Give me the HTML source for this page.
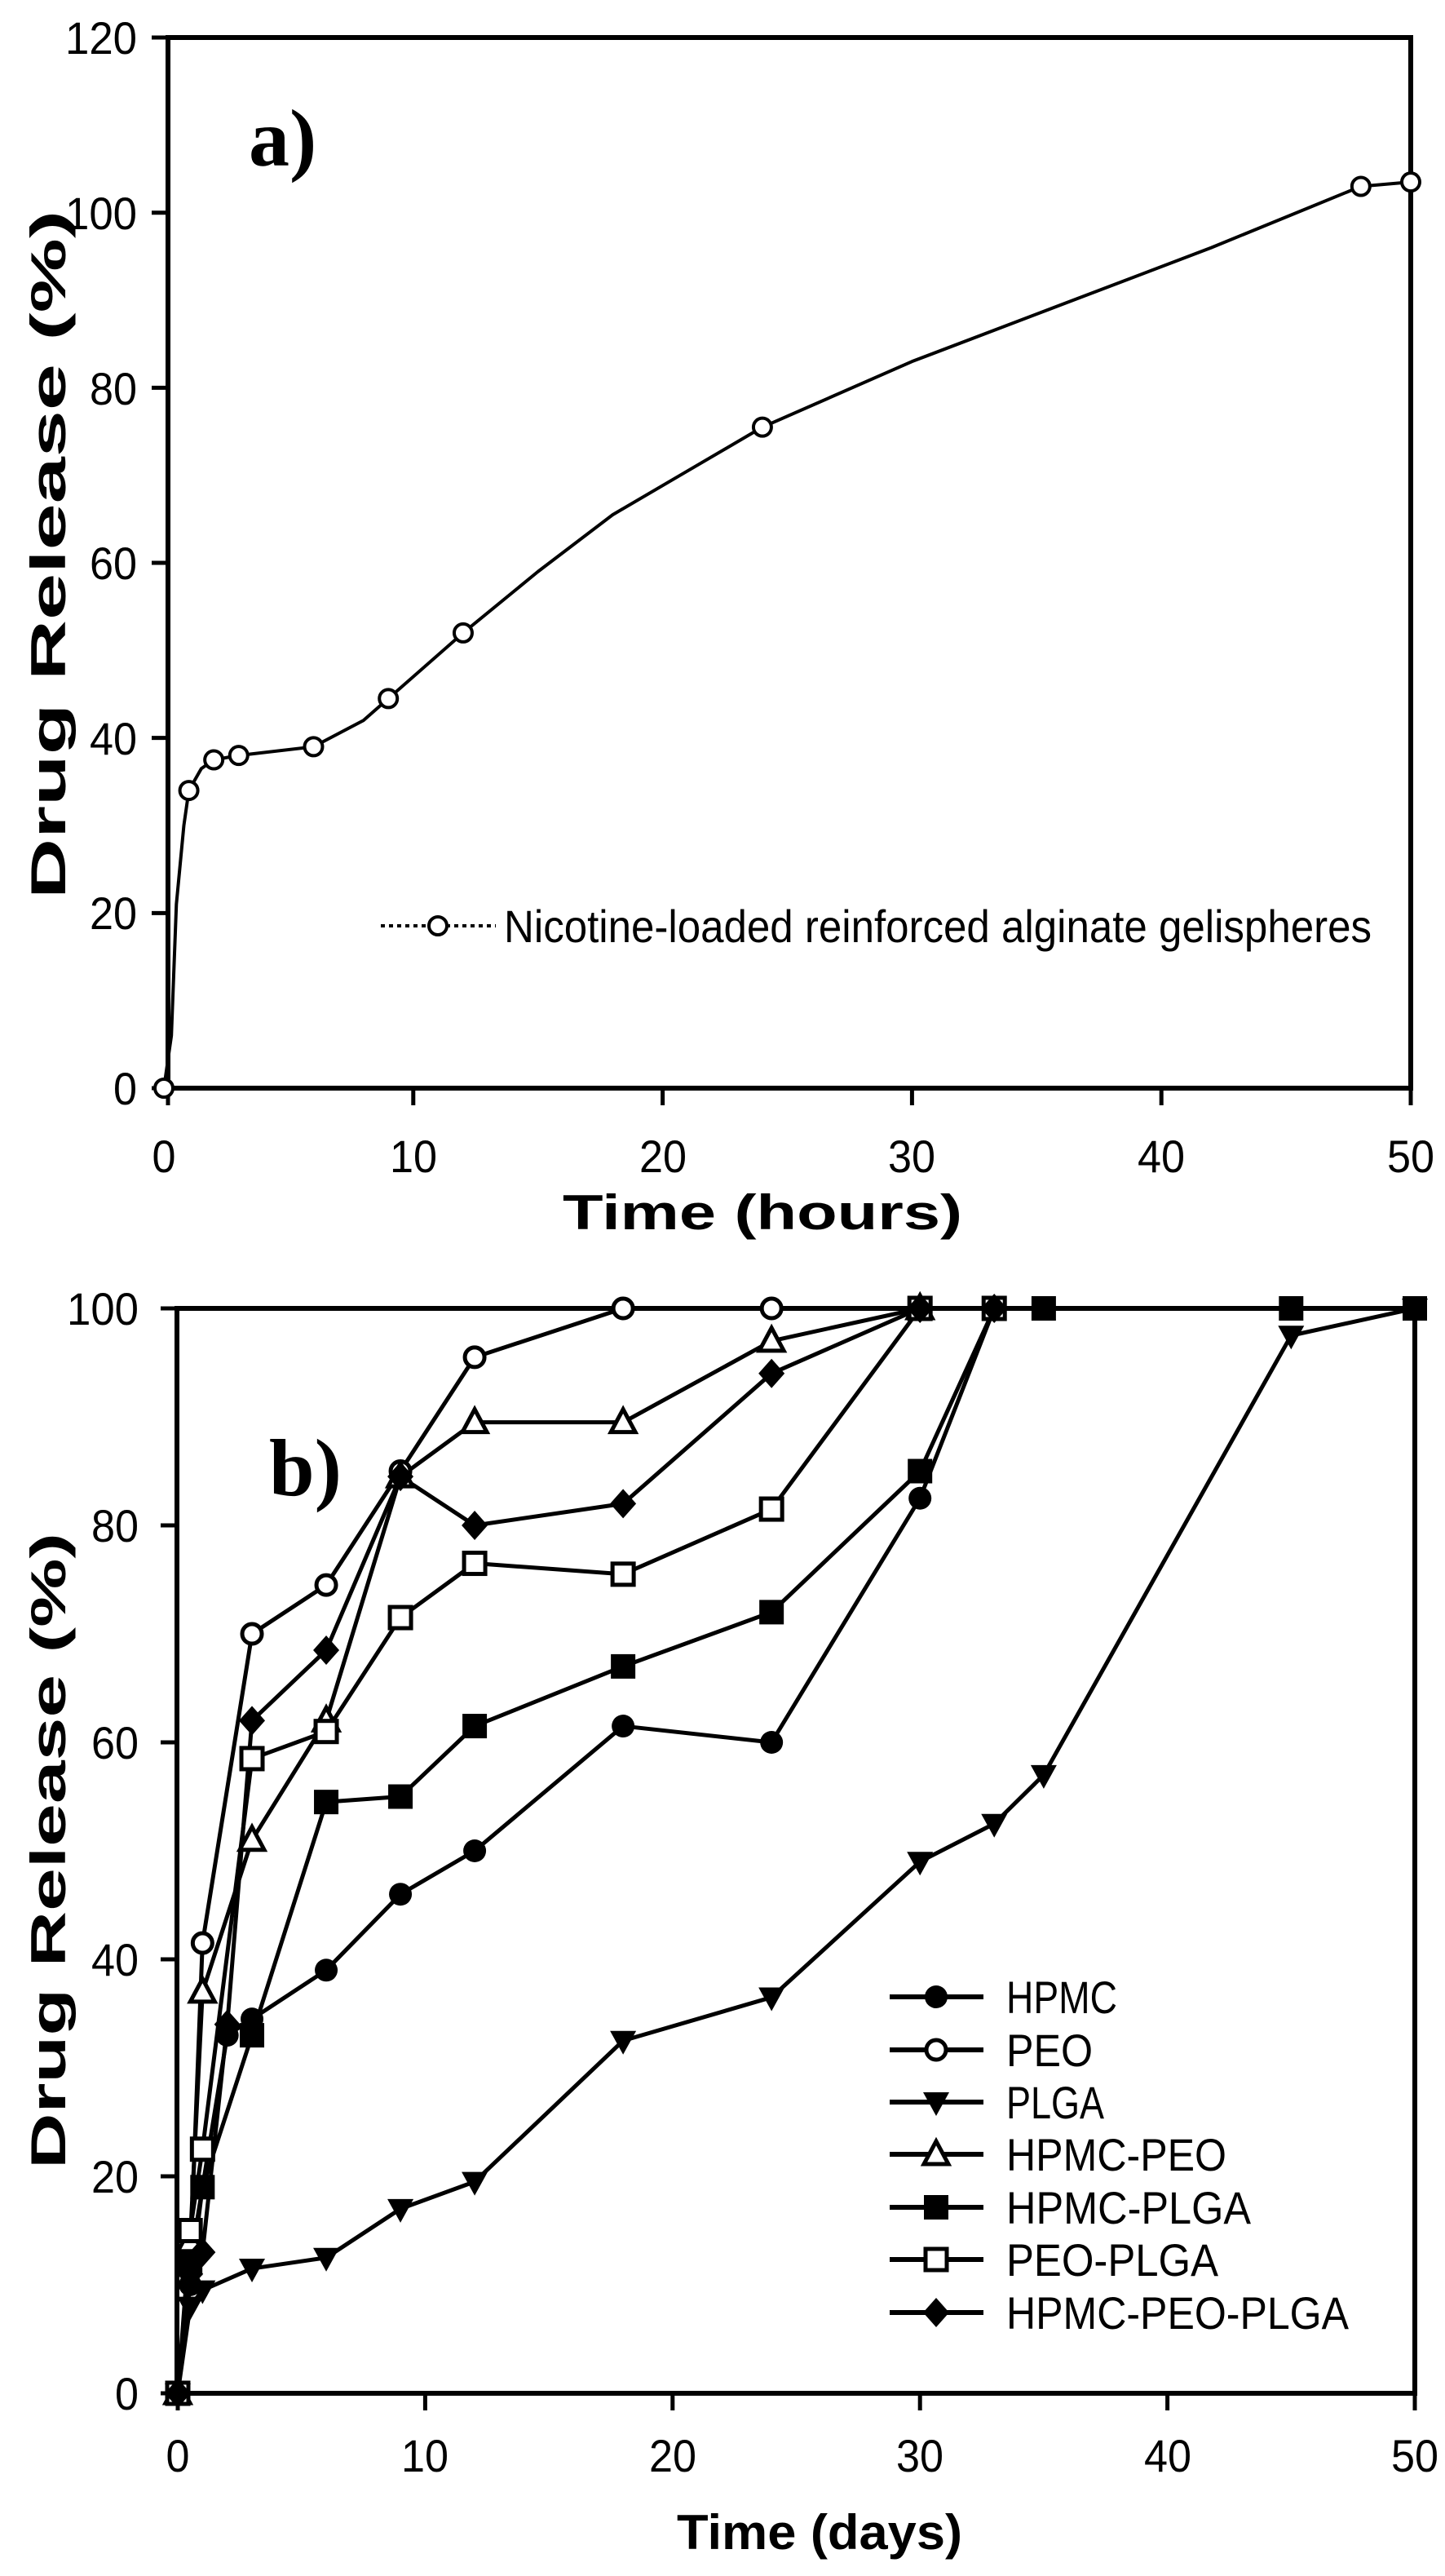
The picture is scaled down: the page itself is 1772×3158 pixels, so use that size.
<!DOCTYPE html>
<html><head><meta charset="utf-8">
<style>
html,body{margin:0;padding:0;background:#fff;}
svg{display:block;}
text{font-family:"Liberation Sans",Arial,sans-serif;fill:#000;}
.t{font-size:56px;}
.ttl{font-size:60px;font-weight:bold;}
.lab{font-family:"Liberation Serif",serif;font-size:100px;font-weight:bold;}
</style></head>
<body>
<svg id="s" width="1772" height="3158" viewBox="0 0 1772 3158" xmlns="http://www.w3.org/2000/svg">
<rect width="1772" height="3158" fill="#fff"/>
<g stroke="#000" stroke-width="6" fill="none">
<rect x="206" y="46" width="1524" height="1288"/>
<rect x="217" y="1604" width="1518" height="1330"/>
</g>
<g id="ticks" stroke="#000" stroke-width="5"></g>
<g id="data"></g>

<g class="t" text-anchor="end">
<text x="168" y="66" textLength="88" lengthAdjust="spacingAndGlyphs">120</text>
<text x="168" y="281" textLength="88" lengthAdjust="spacingAndGlyphs">100</text>
<text x="168" y="496" textLength="58" lengthAdjust="spacingAndGlyphs">80</text>
<text x="168" y="710" textLength="58" lengthAdjust="spacingAndGlyphs">60</text>
<text x="168" y="925" textLength="58" lengthAdjust="spacingAndGlyphs">40</text>
<text x="168" y="1139" textLength="58" lengthAdjust="spacingAndGlyphs">20</text>
<text x="168" y="1354" textLength="29" lengthAdjust="spacingAndGlyphs">0</text>
</g>
<g class="t" text-anchor="middle">
<text x="201" y="1437" textLength="29" lengthAdjust="spacingAndGlyphs">0</text>
<text x="507" y="1437" textLength="58" lengthAdjust="spacingAndGlyphs">10</text>
<text x="813" y="1437" textLength="58" lengthAdjust="spacingAndGlyphs">20</text>
<text x="1118" y="1437" textLength="58" lengthAdjust="spacingAndGlyphs">30</text>
<text x="1424" y="1437" textLength="58" lengthAdjust="spacingAndGlyphs">40</text>
<text x="1730" y="1437" textLength="58" lengthAdjust="spacingAndGlyphs">50</text>
</g>
<text class="ttl" x="935" y="1507" text-anchor="middle" textLength="490" lengthAdjust="spacingAndGlyphs">Time (hours)</text>
<text class="ttl" transform="translate(80,680) rotate(-90)" text-anchor="middle" textLength="844" lengthAdjust="spacingAndGlyphs">Drug Release (%)</text>
<text class="lab" x="305" y="203">a)</text>
<line x1="467" y1="1135" x2="608" y2="1135" stroke="#000" stroke-width="4" stroke-dasharray="5,5"/>
<circle cx="537" cy="1135" r="11" fill="#fff" stroke="#000" stroke-width="4"/>
<text class="t" x="618" y="1155" textLength="1064" lengthAdjust="spacingAndGlyphs">Nicotine-loaded reinforced alginate gelispheres</text>

<g class="t" text-anchor="end">
<text x="170" y="1624" textLength="88" lengthAdjust="spacingAndGlyphs">100</text>
<text x="170" y="1890" textLength="58" lengthAdjust="spacingAndGlyphs">80</text>
<text x="170" y="2156" textLength="58" lengthAdjust="spacingAndGlyphs">60</text>
<text x="170" y="2422" textLength="58" lengthAdjust="spacingAndGlyphs">40</text>
<text x="170" y="2688" textLength="58" lengthAdjust="spacingAndGlyphs">20</text>
<text x="170" y="2954" textLength="29" lengthAdjust="spacingAndGlyphs">0</text>
</g>
<g class="t" text-anchor="middle">
<text x="218" y="3030" textLength="29" lengthAdjust="spacingAndGlyphs">0</text>
<text x="521" y="3030" textLength="58" lengthAdjust="spacingAndGlyphs">10</text>
<text x="825" y="3030" textLength="58" lengthAdjust="spacingAndGlyphs">20</text>
<text x="1128" y="3030" textLength="58" lengthAdjust="spacingAndGlyphs">30</text>
<text x="1432" y="3030" textLength="58" lengthAdjust="spacingAndGlyphs">40</text>
<text x="1735" y="3030" textLength="58" lengthAdjust="spacingAndGlyphs">50</text>
</g>
<text class="ttl" x="1005" y="3125" text-anchor="middle" textLength="350" lengthAdjust="spacingAndGlyphs">Time (days)</text>
<text class="ttl" transform="translate(80,2269) rotate(-90)" text-anchor="middle" textLength="780" lengthAdjust="spacingAndGlyphs">Drug Release (%)</text>
<text class="lab" x="330" y="1833">b)</text>
<g class="t">
<text x="1234" y="2468" textLength="136" lengthAdjust="spacingAndGlyphs">HPMC</text>
<text x="1234" y="2533" textLength="106" lengthAdjust="spacingAndGlyphs">PEO</text>
<text x="1234" y="2597" textLength="120" lengthAdjust="spacingAndGlyphs">PLGA</text>
<text x="1234" y="2661" textLength="270" lengthAdjust="spacingAndGlyphs">HPMC-PEO</text>
<text x="1234" y="2726" textLength="300" lengthAdjust="spacingAndGlyphs">HPMC-PLGA</text>
<text x="1234" y="2790" textLength="260" lengthAdjust="spacingAndGlyphs">PEO-PLGA</text>
<text x="1234" y="2855" textLength="420" lengthAdjust="spacingAndGlyphs">HPMC-PEO-PLGA</text>
</g>
<g id="leg"></g>
</svg>
<script>
(function(){
var NS="http://www.w3.org/2000/svg";
function el(p,n,a){var e=document.createElementNS(NS,n);for(var k in a)e.setAttribute(k,a[k]);p.appendChild(e);return e;}
var T=document.getElementById('ticks'),D=document.getElementById('data'),L=document.getElementById('leg');
for(var v=0;v<=120;v+=20){var y=1334-v*10.733;el(T,'line',{x1:186,y1:y,x2:206,y2:y});}
for(var v=0;v<=50;v+=10){var x=201+v*30.58;if(v==0)x=206;el(T,'line',{x1:x,y1:1334,x2:x,y2:1355});}
function XB(v){return 218+v*30.34;} function YB(v){return 2934-v*13.3;}
for(var v=0;v<=100;v+=20){var y=YB(v);el(T,'line',{x1:197,y1:y,x2:217,y2:y});}
for(var v=0;v<=50;v+=10){var x=XB(v);el(T,'line',{x1:x,y1:2934,x2:x,y2:2955});}
function XA(v){return 201+v*30.58;} function YA(v){return 1334-v*10.733;}
var ca=[[0,0],[0.3,6],[0.5,21],[0.8,30],[1,34],[1.5,36.5],[2,37.5],[3,38],[6,39],[8,42],[9,44.5],[12,52],[15,59],[18,65.5],[21,70.5],[24,75.5],[30,83],[36,89.5],[42,96],[48,103],[50,103.5]];
el(D,'polyline',{points:ca.map(function(p){return XA(p[0])+','+YA(p[1]);}).join(' '),fill:'none',stroke:'#000','stroke-width':4,'stroke-linejoin':'round'});
[[0,0],[1,34],[2,37.5],[3,38],[6,39],[9,44.5],[12,52],[24,75.5],[48,103],[50,103.5]].forEach(function(p){
 el(D,'circle',{cx:XA(p[0]),cy:YA(p[1]),r:11,fill:'#fff',stroke:'#000','stroke-width':4});});
function marker(g,t,x,y){
 if(t=='fc')el(g,'circle',{cx:x,cy:y,r:14,fill:'#000'});
 if(t=='oc')el(g,'circle',{cx:x,cy:y,r:12,fill:'#fff',stroke:'#000','stroke-width':5});
 if(t=='ft')el(g,'polygon',{points:(x-16)+','+(y-12)+' '+(x+16)+','+(y-12)+' '+x+','+(y+17),fill:'#000'});
 if(t=='ot')el(g,'polygon',{points:(x-15)+','+(y+12)+' '+(x+15)+','+(y+12)+' '+x+','+(y-16),fill:'#fff',stroke:'#000','stroke-width':5});
 if(t=='fs')el(g,'rect',{x:x-15,y:y-15,width:30,height:30,fill:'#000'});
 if(t=='os')el(g,'rect',{x:x-13,y:y-13,width:26,height:26,fill:'#fff',stroke:'#000','stroke-width':5});
 if(t=='fd')el(g,'polygon',{points:x+','+(y-18)+' '+(x+16)+','+y+' '+x+','+(y+18)+' '+(x-16)+','+y,fill:'#000'});
}
var S=[
 ['fc',[[0,0],[0.5,10],[1,19],[2,33],[3,34.5],[6,39],[9,46],[12,50],[18,61.5],[24,60],[30,82.5],[33,100],[35,100],[45,100],[50,100]]],
 ['oc',[[0,0],[0.5,12],[1,41.5],[3,70],[6,74.5],[9,85],[12,95.5],[18,100],[24,100],[30,100]]],
 ['ft',[[0,0],[0.5,8],[1,9.5],[3,11.5],[6,12.5],[9,17],[12,19.5],[18,32.5],[24,36.5],[30,49],[33,52.5],[35,57],[45,97.5],[50,100]]],
 ['ot',[[0,0],[0.5,14],[1,37],[3,51],[6,62],[9,84.5],[12,89.5],[18,89.5],[24,97],[30,100]]],
 ['fs',[[0,0],[0.5,12],[1,19],[3,33],[6,54.5],[9,55],[12,61.5],[18,67],[24,72],[30,85],[33,100],[35,100],[45,100],[50,100]]],
 ['os',[[0,0],[0.5,15],[1,22.5],[3,58.5],[6,61],[9,71.5],[12,76.5],[18,75.5],[24,81.5],[30,100],[33,100]]],
 ['fd',[[0,0],[0.5,11],[1,13],[2,34],[3,62],[6,68.5],[9,84.5],[12,80],[18,82],[24,94],[30,100],[33,100]]]
];
S.forEach(function(s){
 el(D,'polyline',{points:s[1].map(function(p){return XB(p[0])+','+YB(p[1]);}).join(' '),fill:'none',stroke:'#000','stroke-width':5,'stroke-linejoin':'round'});
});
S.forEach(function(s){s[1].forEach(function(p){marker(D,s[0],XB(p[0]),YB(p[1]));});});
var rows=[2448,2513,2577,2641,2706,2770,2835];
S.forEach(function(s,i){
 el(L,'line',{x1:1091,y1:rows[i],x2:1206,y2:rows[i],stroke:'#000','stroke-width':6});
 marker(L,s[0],1148,rows[i]);
});
})();
</script>
</body></html>
